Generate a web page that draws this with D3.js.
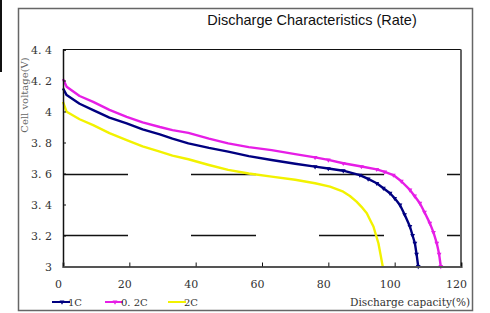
<!DOCTYPE html>
<html>
<head>
<meta charset="utf-8">
<script src="https://cdn.jsdelivr.net/npm/d3@7"></script>
<style>
  body { margin: 0; background: #fff; }
  svg { display: block; }
</style>
</head>
<body>
<div id="chart"></div>
<script>
// datos
const titulo = "Discharge Characteristics (Rate)"
const series = ["1C", "0.2C", "2C"]
const colores = ["#000080", "#e61ee6", "#f2f200"]

const cap1C = [0, 1.1, 5, 9.1, 14, 19.2, 24, 29.2, 33, 37.8, 44, 49.8, 56, 62.9, 70, 76, 80, 84.5, 89.5, 92, 94.6, 96.6, 98.6, 100, 101.6, 103, 104.6, 105.4, 106.1, 106.6, 107.1]
const volt1C = [4.149, 4.106, 4.05, 4.009, 3.96, 3.923, 3.885, 3.852, 3.825, 3.794, 3.765, 3.741, 3.712, 3.687, 3.663, 3.644, 3.632, 3.618, 3.59, 3.565, 3.537, 3.505, 3.473, 3.44, 3.397, 3.335, 3.258, 3.2, 3.15, 3.08, 3.0]

const cap02C = [0, 1.1, 5, 9.1, 14, 19.2, 24, 29.2, 33, 37.8, 44, 49.8, 56, 62.9, 70, 76, 80, 84.5, 90, 94.6, 97, 99.6, 102, 104.6, 106, 107.6, 109, 110.6, 111.7, 112.7, 113.4, 113.9]
const volt02C = [4.21, 4.16, 4.10, 4.062, 4.01, 3.966, 3.93, 3.90, 3.88, 3.862, 3.825, 3.794, 3.77, 3.751, 3.725, 3.704, 3.688, 3.666, 3.645, 3.627, 3.61, 3.59, 3.55, 3.494, 3.455, 3.408, 3.35, 3.28, 3.22, 3.15, 3.08, 3.0]

const cap2C = [0, 1.1, 5, 9.1, 14, 19.2, 24, 29.2, 33, 37.8, 44, 49.8, 56, 62.9, 70, 76, 80.5, 84.5, 86.5, 88.5, 90, 91.6, 92.6, 93.6, 94.4, 95.1, 95.8, 96.4]
const volt2C = [4.062, 3.998, 3.95, 3.912, 3.86, 3.816, 3.775, 3.741, 3.715, 3.692, 3.655, 3.623, 3.60, 3.58, 3.56, 3.537, 3.515, 3.483, 3.455, 3.419, 3.385, 3.344, 3.30, 3.258, 3.2, 3.15, 3.07, 3.0]

const xTicks = [0, 20, 40, 60, 80, 100, 120]
const yTicks = [3, 3.2, 3.4, 3.6, 3.8, 4, 4.2, 4.4]
const yEtiquetas = ["3", "3. 2", "3. 4", "3. 6", "3. 8", "4", "4. 2", "4. 4"]
const lineasGuia = [3.2, 3.6]

const datos = [
  { nombre: series[0], color: colores[0], marcas: true, puntos: cap1C.map((c, i) => ({ x: c, y: volt1C[i] })) },
  { nombre: series[1], color: colores[1], marcas: true, puntos: cap02C.map((c, i) => ({ x: c, y: volt02C[i] })) },
  { nombre: series[2], color: colores[2], marcas: false, puntos: cap2C.map((c, i) => ({ x: c, y: volt2C[i] })) }
]

const ancho = 490, alto = 313
const svg = d3.select("#chart").append("svg")
  .attr("width", ancho)
  .attr("height", alto)

const fuenteSerif = "'DejaVu Serif', 'Liberation Serif', serif"

// marca de la izquierda y marco exterior
svg.append("rect").attr("x", 0).attr("y", 0).attr("width", 2).attr("height", 72).attr("fill", "#111")
svg.append("rect")
  .attr("x", 18.5).attr("y", 8.5).attr("width", 454).attr("height", 302)
  .attr("fill", "none").attr("stroke", "#666").attr("stroke-width", 1.5)

// titulo
svg.append("text")
  .attr("x", 312).attr("y", 25)
  .attr("text-anchor", "middle")
  .attr("font-family", "'Liberation Sans', Arial, sans-serif")
  .attr("font-size", 14.5)
  .attr("fill", "#111")
  .text(titulo)

const x = d3.scaleLinear().domain([0, 120]).range([63, 461])
const y = d3.scaleLinear().domain([3, 4.4]).range([266.5, 49.5])

// lineas guia discontinuas
svg.append("g").selectAll("line")
  .data(lineasGuia)
  .join("line")
  .attr("x1", x(0)).attr("x2", x(120))
  .attr("y1", d => Math.round(y(d)) + 0.5).attr("y2", d => Math.round(y(d)) + 0.5)
  .attr("stroke", "#111").attr("stroke-width", 1.4)
  .attr("stroke-dasharray", "65,63")

// borde del area de trazado
svg.append("line").attr("x1", x(0)).attr("x2", x(120)).attr("y1", y(4.4)).attr("y2", y(4.4))
  .attr("stroke", "#111").attr("stroke-width", 1.2)
svg.append("line").attr("x1", x(120)).attr("x2", x(120)).attr("y1", y(4.4)).attr("y2", y(3))
  .attr("stroke", "#666").attr("stroke-width", 2)

// curvas
const linea = d3.line().x(d => x(d.x)).y(d => y(d.y))
const gSeries = svg.append("g")
datos.forEach(s => {
  gSeries.append("path")
    .datum(s.puntos)
    .attr("d", linea)
    .attr("fill", "none")
    .attr("stroke", s.color)
    .attr("stroke-width", 2.4)
    .attr("stroke-linejoin", "round")
  if (s.marcas) {
    gSeries.selectAll(null)
      .data(s.puntos.filter(p => p.x > 70))
      .join("path")
      .attr("d", d3.symbol(d3.symbolTriangle, 10))
      .attr("transform", d => "translate(" + x(d.x) + "," + y(d.y) + ") rotate(180)")
      .attr("fill", s.color)
  }
})

// eje y
const ejeY = svg.append("g")
  .attr("transform", "translate(" + x(0) + ",0)")
  .call(d3.axisLeft(y).tickValues(yTicks).tickSize(-3).tickPadding(11)
    .tickFormat((d, i) => yEtiquetas[i]))
ejeY.select(".domain").attr("stroke", "#111").attr("stroke-width", 1.5)
ejeY.selectAll(".tick line").attr("stroke", "#111")
ejeY.selectAll("text").attr("font-family", fuenteSerif).attr("font-size", 11).attr("fill", "#333")

// eje x
const ejeX = svg.append("g")
  .attr("transform", "translate(0," + y(3) + ")")
  .call(d3.axisBottom(x).tickValues(xTicks).tickSize(-4).tickPadding(14))
ejeX.select(".domain").attr("stroke", "#555").attr("stroke-width", 2.2)
ejeX.selectAll(".tick line").attr("stroke", "#111")
ejeX.selectAll("text").attr("font-family", fuenteSerif).attr("font-size", 11).attr("fill", "#333")
  .attr("dx", -5)

// titulos de ejes
svg.append("text")
  .attr("x", 350).attr("y", 306)
  .attr("font-family", fuenteSerif).attr("font-size", 10.5).attr("fill", "#333")
  .text("Discharge capacity(%)")

svg.append("text")
  .attr("transform", "translate(28,95) rotate(-90)")
  .attr("text-anchor", "middle")
  .attr("font-family", fuenteSerif).attr("font-size", 10).attr("fill", "#666")
  .text("Cell voltage(V)")

// leyenda
const posLeyenda = [52, 105, 168]
const leyenda = svg.append("g").selectAll("g")
  .data(datos)
  .join("g")
  .attr("transform", (d, i) => "translate(" + posLeyenda[i] + ",302)")
leyenda.append("line")
  .attr("x1", 0).attr("x2", 18).attr("y1", 0).attr("y2", 0)
  .attr("stroke", d => d.color).attr("stroke-width", 2)
leyenda.filter(d => d.marcas).append("path")
  .attr("d", d3.symbol(d3.symbolTriangle, 10))
  .attr("transform", "translate(10,0) rotate(180)")
  .attr("fill", d => d.color)
leyenda.append("text")
  .attr("x", 16).attr("y", 4)
  .attr("font-family", fuenteSerif).attr("font-size", 10).attr("fill", "#333")
  .text(d => d.nombre === "0.2C" ? "0. 2C" : d.nombre)
</script>
</body>
</html>
